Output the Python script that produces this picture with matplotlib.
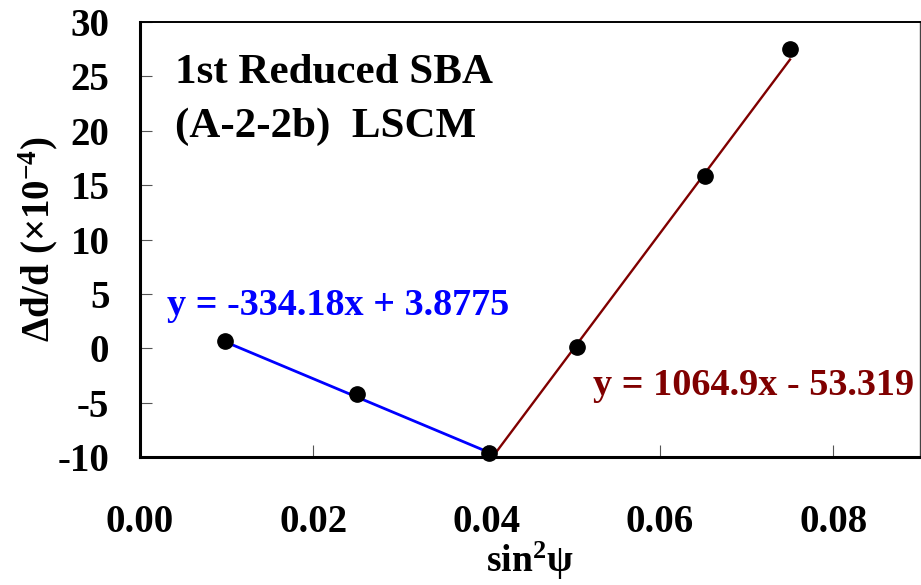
import matplotlib
matplotlib.use("Agg")
import matplotlib.pyplot as plt
import numpy as np

# Data
x_pts = [0.0098, 0.0250, 0.0403, 0.0504, 0.0652, 0.0750]
y_pts = [0.67, -4.2, -9.6, 0.1, 15.8, 27.5]

# Trendline coefficients (slope, intercept) and x-extents
blue_fit = (-334.18, 3.8775)
blue_range = [0.0098, 0.0403]
red_fit = (1064.9, -53.319)
red_range = [0.0403, 0.0750]

blue_label = "y = -334.18x + 3.8775"
red_label = "y = 1064.9x - 53.319"
title_lines = ["1st Reduced SBA", "(A-2-2b)  LSCM"]
xticks = [0.00, 0.02, 0.04, 0.06, 0.08]
xtick_labels = ["0.00", "0.02", "0.04", "0.06", "0.08"]
yticks = [-10, -5, 0, 5, 10, 15, 20, 25, 30]
ytick_labels = ["-10", "-5", "0", "5", "10", "15", "20", "25", "30"]

plt.rcParams['font.family'] = ['Liberation Serif', 'DejaVu Serif']
plt.rcParams['font.weight'] = 'bold'
plt.rcParams['axes.labelweight'] = 'bold'
plt.rcParams['mathtext.fontset'] = 'custom'
plt.rcParams['mathtext.rm'] = 'Liberation Serif:bold'
plt.rcParams['mathtext.bf'] = 'Liberation Serif:bold'
plt.rcParams['mathtext.it'] = 'Liberation Serif:bold'
plt.rcParams['mathtext.default'] = 'rm'

fig = plt.figure(figsize=(9.21, 5.85), dpi=100)
ax = fig.add_axes([140/921, 1-457/585, 780/921, 435/585])

bx = np.array(blue_range)
ax.plot(bx, blue_fit[0]*bx + blue_fit[1], color='#0000FF', lw=2.0, zorder=2)
rx = np.array(red_range)
ax.plot(rx, red_fit[0]*rx + red_fit[1], color='#800000', lw=1.7, zorder=2)
ax.plot(x_pts, y_pts, 'o', color='black', ms=11, zorder=3, clip_on=False)

ax.set_xlim(0, 0.09)
ax.set_ylim(-10, 30)
ax.set_xticks(xticks)
ax.set_xticklabels(xtick_labels)
ax.set_yticks(yticks)
ax.set_yticklabels(ytick_labels)
ax.tick_params(direction='in', length=8.5, width=0.8, color='#555555',
               labelsize=28)
ax.tick_params(axis='x', pad=34)
ax.tick_params(axis='y', pad=22)

for s in ['left', 'bottom']:
    ax.spines[s].set_linewidth(2.2)
    ax.spines[s].set_color('black')
ax.spines['top'].set_linewidth(1.4)
ax.spines['right'].set_linewidth(1.0)
ax.spines['right'].set_color('#444444')

ax.set_xlabel("sin$^{2}$ψ", fontsize=27, labelpad=-1)
ax.set_ylabel("Δd/d (×10$^{-4}$)", fontsize=28, labelpad=-2)

ax.text(0.00404, 24.39, title_lines[0], fontsize=31, va='baseline', ha='left')
ax.text(0.00404, 19.43, title_lines[1], fontsize=31, va='baseline', ha='left')
ax.text(0.0031, 3.06, blue_label, fontsize=27.5, color='#0000FF', va='baseline', ha='left')
ax.text(0.0523, -4.3, red_label, fontsize=27.5, color='#800000', va='baseline', ha='left')

fig.savefig("out.png", dpi=100)
